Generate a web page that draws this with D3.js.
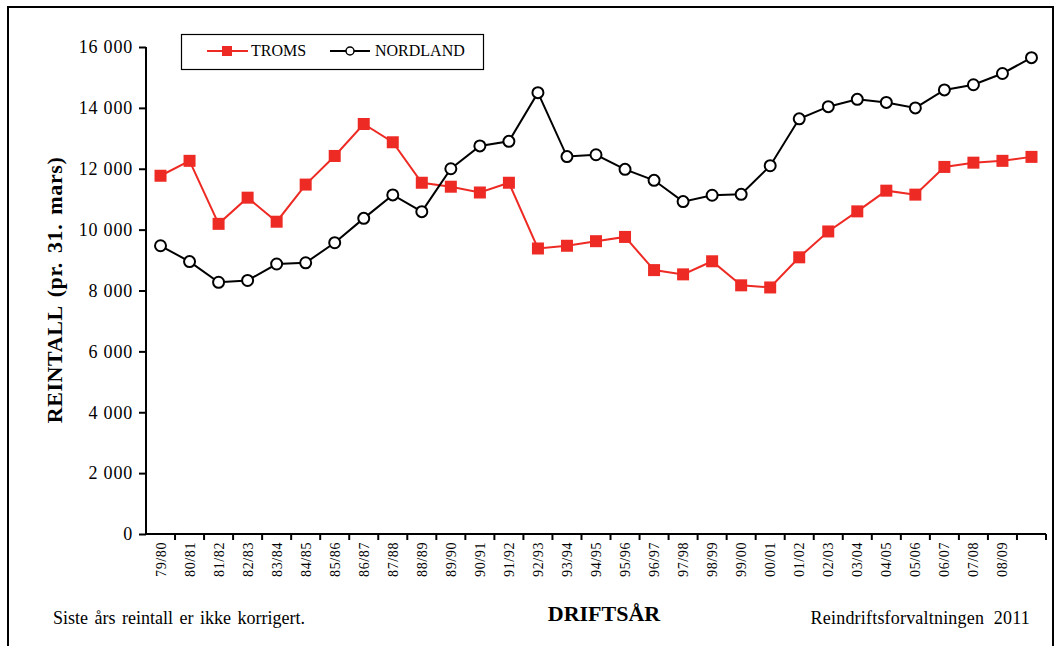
<!DOCTYPE html>
<html><head><meta charset="utf-8">
<script src="https://cdn.jsdelivr.net/npm/d3@7"></script>
<style>body{margin:0;background:#fff}svg{display:block}text{font-family:"Liberation Serif","Times New Roman",serif}</style>
</head><body>
<svg id="c" width="1059" height="646"></svg>
<script>
const seasons = ["79/80","80/81","81/82","82/83","83/84","84/85","85/86","86/87","87/88","88/89","89/90","90/91","91/92","92/93","93/94","94/95","95/96","96/97","97/98","98/99","99/00","00/01","01/02","02/03","03/04","04/05","05/06","06/07","07/08","08/09","09/10"];
const tickLabels = seasons.slice(0, 30);
const troms = [11770,12260,10190,11050,10260,11480,12420,13470,12870,11540,11410,11220,11540,9380,9470,9620,9760,8670,8530,8960,8170,8100,9090,9940,10600,11280,11150,12060,12200,12260,12390];
const nordland = [9470,8950,8270,8330,8870,8910,9570,10370,11140,10590,12000,12750,12900,14500,12400,12460,11980,11620,10920,11130,11160,12100,13640,14040,14280,14180,14000,14590,14760,15130,15650];
const yTicks = [0,2000,4000,6000,8000,10000,12000,14000,16000];

const svg = d3.select("#c");

// outer frame
svg.append("rect").attr("x",8).attr("y",7).attr("width",1045).attr("height",660)
  .attr("fill","none").attr("stroke","#000").attr("stroke-width",2);

const x = d3.scaleBand().domain(seasons).range([146,1046]).padding(0);
const y = d3.scaleLinear().domain([0,16000]).range([534,47]);

// Y axis
const ya = svg.append("g").attr("transform","translate(146,0)")
  .call(d3.axisLeft(y).tickValues(yTicks).tickSize(7).tickSizeOuter(0).tickFormat(v => v===0?"0":(v/1000)+" 000"));
ya.select(".domain").attr("stroke","#000").attr("stroke-width",2).attr("d","M0,47V534");
ya.selectAll(".tick line").attr("stroke","#000").attr("stroke-width",2);
ya.selectAll(".tick text").attr("font-family",null).attr("font-size",18).attr("letter-spacing","0.8px").attr("fill","#000").attr("x",-13);

// X axis
const xa = svg.append("g").attr("transform","translate(0,534)");
xa.append("line").attr("x1",146).attr("x2",1046).attr("y1",0).attr("y2",0).attr("stroke","#000").attr("stroke-width",2);
seasons.forEach(s => {
  xa.append("line").attr("x1",x(s)+x.bandwidth()).attr("x2",x(s)+x.bandwidth()).attr("y1",0).attr("y2",6)
    .attr("stroke","#000").attr("stroke-width",2);
});
tickLabels.forEach(s => {
  const cx = x(s)+x.bandwidth()/2;
  xa.append("text").attr("transform",`translate(${cx+5},8) rotate(-90)`)
    .attr("text-anchor","end").attr("font-size",14).attr("letter-spacing","0.6px").attr("fill","#000").text(s);
});

const cxf = (d,i) => x(seasons[i]) + x.bandwidth()/2;
const line = d3.line().x(cxf).y(d => y(d));

svg.append("path").datum(troms).attr("d",line).attr("fill","none").attr("stroke","#ee2a24").attr("stroke-width",2);
svg.append("path").datum(nordland).attr("d",line).attr("fill","none").attr("stroke","#000").attr("stroke-width",2);

svg.selectAll(".sq").data(troms).enter().append("rect")
  .attr("x",(d,i)=>cxf(d,i)-6).attr("y",d=>y(d)-6).attr("width",12).attr("height",12).attr("fill","#ee2a24");
svg.selectAll(".ci").data(nordland).enter().append("circle")
  .attr("cx",cxf).attr("cy",d=>y(d)).attr("r",5.5).attr("fill","#fff").attr("stroke","#000").attr("stroke-width",2);

// legend
const lg = svg.append("g");
lg.append("rect").attr("x",181.5).attr("y",34.5).attr("width",302).attr("height",35).attr("fill","#fff").attr("stroke","#000").attr("stroke-width",1.2);
lg.append("line").attr("x1",207).attr("x2",248).attr("y1",51).attr("y2",51).attr("stroke","#ee2a24").attr("stroke-width",2);
lg.append("rect").attr("x",222).attr("y",46).attr("width",10).attr("height",10).attr("fill","#ee2a24");
lg.append("text").attr("x",251).attr("y",56).attr("font-size",16).text("TROMS");
lg.append("line").attr("x1",330).attr("x2",370).attr("y1",51).attr("y2",51).attr("stroke","#000").attr("stroke-width",2);
lg.append("circle").attr("cx",350).attr("cy",51).attr("r",4).attr("fill","#fff").attr("stroke","#000").attr("stroke-width",1.5);
lg.append("text").attr("x",375).attr("y",56).attr("font-size",16).text("NORDLAND");

// axis titles
svg.append("text").attr("transform","translate(62,290) rotate(-90)").attr("text-anchor","middle")
  .attr("font-size",22).attr("font-weight","bold").attr("letter-spacing","0.6px").attr("word-spacing","3px").text("REINTALL (pr. 31. mars)");
svg.append("text").attr("x",604).attr("y",621).attr("text-anchor","middle")
  .attr("font-size",22).attr("font-weight","bold").text("DRIFTSÅR");
svg.append("text").attr("x",53).attr("y",624).attr("font-size",18).attr("word-spacing","2px").text("Siste års reintall er ikke korrigert.");
svg.append("text").attr("x",1030).attr("y",624).attr("text-anchor","end").attr("font-size",18).attr("letter-spacing","0.2px").attr("word-spacing","5px").text("Reindriftsforvaltningen 2011");
</script>
</body></html>
